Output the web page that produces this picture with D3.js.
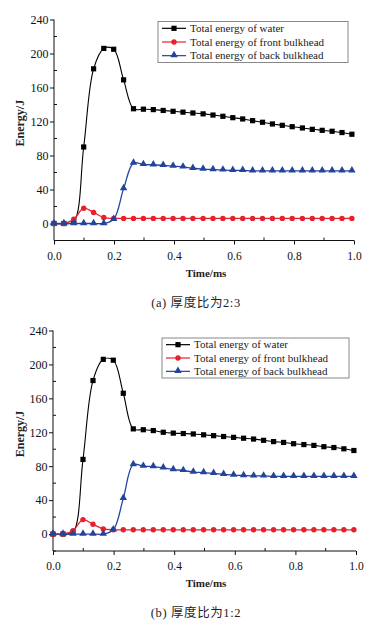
<!DOCTYPE html>
<html>
<head>
<meta charset="utf-8">
<script src="https://cdn.jsdelivr.net/npm/d3@7"></script>
<style>
  body { margin: 0; background: #fff; }
  svg text { font-family: "Liberation Serif", "Times New Roman", "DejaVu Serif", serif !important; }
  svg text.cap { font-family: "Liberation Serif", "Noto Sans CJK SC", serif !important; }
</style>
</head>
<body>
<div id="chart"></div>
<script>
// time axis (ms), same for both panels
let time = [0.000, 0.033, 0.066, 0.099, 0.132, 0.166, 0.199, 0.232, 0.265, 0.298,
  0.331, 0.364, 0.397, 0.430, 0.463, 0.497, 0.530, 0.563, 0.596, 0.629,
  0.662, 0.695, 0.728, 0.761, 0.794, 0.828, 0.861, 0.894, 0.927, 0.960, 0.993]

// (a) thickness ratio 2:3
let waterA = [0, 0, 2, 90, 182, 206, 205, 169, 135, 134.5,
  134, 133, 132, 131, 130, 129, 127.6, 126.1, 124.5, 123,
  121, 119.1, 117.1, 115.5, 113.9, 112.4, 110.8, 109.6, 108.5, 107, 105]
let frontA = [0, 0, 5, 18, 13, 7, 6, 6, 6, 6,
  6, 6, 6, 6, 6, 6, 6, 6, 6, 6,
  6, 6, 6, 6, 6, 6, 6, 6, 6, 6, 6]
let backA = [0, 0, 0, 0, 0, 0, 5, 41, 71, 69.5,
  69, 68.5, 67.5, 66.5, 65, 64, 63.5, 63, 62.5, 62.5,
  62, 62, 62, 62, 62, 62, 62, 62, 62, 62, 62]

// (b) thickness ratio 1:2
let waterB = [0, 0, 2, 88, 181, 206, 205, 166, 124, 123,
  122, 120, 119, 118.5, 118, 117, 116, 115, 114, 113,
  112, 110.5, 109, 108, 106.5, 105.5, 104.5, 103, 102, 100.5, 98.5]
let frontB = [0, 0, 4, 17, 11.5, 6, 5, 5, 5, 5,
  5, 5, 5, 5, 5, 5, 5, 5, 5, 5,
  5, 5, 5, 5, 5, 5, 5, 5, 5, 5, 5]
let backB = [0, 0, 0, 0, 0, 0, 5, 42, 82, 80,
  79.5, 78, 76, 75, 73, 72.5, 71.5, 70.5, 69.5, 69,
  68.5, 68.5, 68, 68, 68, 68, 68, 68, 68, 68, 68]

let seriesNames = ['Total energy of water', 'Total energy of front bulkhead', 'Total energy of back bulkhead']
let xTicks = [0, 0.2, 0.4, 0.6, 0.8, 1.0]
let xMinor = [0.1, 0.3, 0.5, 0.7, 0.9]
let yTicks = [0, 40, 80, 120, 160, 200, 240]
let yMinor = [-20, 20, 60, 100, 140, 180, 220]
let captions = ['(a) 厚度比为2:3', '(b) 厚度比为1:2']

let colors = ['#000000', '#e8202c', '#24449c']

let width = 389
let height = 621

let svg = d3
  .select('#chart')
  .append('svg')
  .attr('width', width)
  .attr('height', height)

let panels = [
  { series: [waterA, frontA, backA], x0: 54, x1: 354, yTop: 19.5, yBot: 240.5,
    legend: { x: 158, y: 21.5, w: 190, h: 41 }, caption: captions[0] },
  { series: [waterB, frontB, backB], x0: 53, x1: 356, yTop: 330.5, yBot: 551,
    legend: { x: 162, y: 338, w: 187, h: 40 }, caption: captions[1] }
]

panels.forEach(p => drawPanel(p))

function drawPanel(p) {
  let xScale = d3.scaleLinear().domain([0, 1]).range([p.x0, p.x1])
  let yScale = d3.scaleLinear().domain([-20, 240]).range([p.yBot, p.yTop])

  let g = svg.append('g')

  // x axis
  let xAxis = d3.axisBottom(xScale)
    .tickValues(xTicks)
    .tickFormat(d3.format('.1f'))
    .tickSize(4)
    .tickPadding(7)
  let xg = g.append('g')
    .attr('transform', `translate(0,${p.yBot})`)
    .call(xAxis)
  xg.select('.domain').attr('d', `M${p.x0},0H${p.x1}`).attr('stroke', '#111')
  xg.selectAll('text').attr('font-size', 11.5).attr('fill', '#111')
  xg.selectAll('line').attr('stroke', '#111')

  g.append('g')
    .selectAll('.xminor')
    .data(xMinor)
    .enter()
    .append('line')
    .attr('x1', d => xScale(d))
    .attr('x2', d => xScale(d))
    .attr('y1', p.yBot)
    .attr('y2', p.yBot - 3)
    .attr('stroke', '#111')

  // y axis
  let yAxis = d3.axisLeft(yScale)
    .tickValues(yTicks)
    .tickSize(4)
    .tickPadding(1.5)
  let yg = g.append('g')
    .attr('transform', `translate(${p.x0},0)`)
    .call(yAxis)
  yg.select('.domain').attr('d', `M0,${p.yBot}V${p.yTop}`).attr('stroke', '#111')
  yg.selectAll('text').attr('font-size', 12).attr('fill', '#111')
  yg.selectAll('line').attr('stroke', '#111')

  g.append('g')
    .selectAll('.yminor')
    .data(yMinor)
    .enter()
    .append('line')
    .attr('x1', p.x0)
    .attr('x2', p.x0 + 3)
    .attr('y1', d => yScale(d))
    .attr('y2', d => yScale(d))
    .attr('stroke', '#111')

  // axis titles
  g.append('text')
    .text('Time/ms')
    .attr('x', 206)
    .attr('y', p.yBot + 36)
    .attr('text-anchor', 'middle')
    .attr('font-size', 11)
    .attr('font-weight', 'bold')
    .attr('fill', '#222')

  g.append('text')
    .text('Energy/J')
    .attr('transform', `translate(24,${yScale(118)}) rotate(-90)`)
    .attr('text-anchor', 'middle')
    .attr('font-size', 12)
    .attr('font-weight', 'bold')
    .attr('fill', '#222')

  g.append('text')
    .attr('class', 'cap')
    .text(p.caption)
    .attr('x', 196)
    .attr('y', p.yBot + 66)
    .attr('text-anchor', 'middle')
    .attr('font-size', 12.5)
    .attr('letter-spacing', 0.6)
    .attr('fill', '#222')

  let line = d3.line()
    .x((d, i) => xScale(time[i]))
    .y(d => yScale(d))
    .curve(d3.curveCatmullRom.alpha(0.5))

  p.series.forEach((values, k) => {
    g.append('path')
      .datum(values)
      .attr('d', line)
      .attr('fill', 'none')
      .attr('stroke', colors[k])
      .attr('stroke-width', k === 0 ? 1.1 : 1.3)

    drawMarkers(g, values.map((v, i) => [xScale(time[i]), yScale(v)]), k)
  })

  // legend
  let legend = g.append('g')
    .attr('transform', `translate(${p.legend.x},${p.legend.y})`)

  legend.append('rect')
    .attr('width', p.legend.w)
    .attr('height', p.legend.h)
    .attr('fill', '#fff')
    .attr('stroke', '#888')
    .attr('stroke-width', 1)

  let rowH = p.legend.h / 3
  legend
    .selectAll('.legend-entry')
    .data(seriesNames)
    .enter()
    .append('g')
    .attr('class', 'legend-entry')
    .attr('transform', (d, i) => `translate(0,${rowH * (i + 0.5)})`)
    .each(function (d, i) {
      let e = d3.select(this)
      e.append('line')
        .attr('x1', 4)
        .attr('x2', 28)
        .attr('stroke', colors[i])
        .attr('stroke-width', 1.2)
      drawMarkers(e, [[16, 0]], i)
      e.append('text')
        .text(d)
        .attr('x', 32)
        .attr('dy', '0.33em')
        .attr('font-size', 11)
        .attr('fill', '#222')
    })
}

function drawMarkers(g, pts, k) {
  if (k === 0) {
    g.selectAll(null)
      .data(pts)
      .enter()
      .append('rect')
      .attr('x', d => d[0] - 2.6)
      .attr('y', d => d[1] - 2.6)
      .attr('width', 5.2)
      .attr('height', 5.2)
      .attr('fill', colors[0])
  } else if (k === 1) {
    g.selectAll(null)
      .data(pts)
      .enter()
      .append('circle')
      .attr('cx', d => d[0])
      .attr('cy', d => d[1])
      .attr('r', 2.7)
      .attr('fill', colors[1])
  } else {
    let tri = d3.symbol().type(d3.symbolTriangle).size(24)
    g.selectAll(null)
      .data(pts)
      .enter()
      .append('path')
      .attr('d', tri)
      .attr('transform', d => `translate(${d[0]},${d[1] - 0.5})`)
      .attr('fill', colors[2])
  }
}
</script>
</body>
</html>
